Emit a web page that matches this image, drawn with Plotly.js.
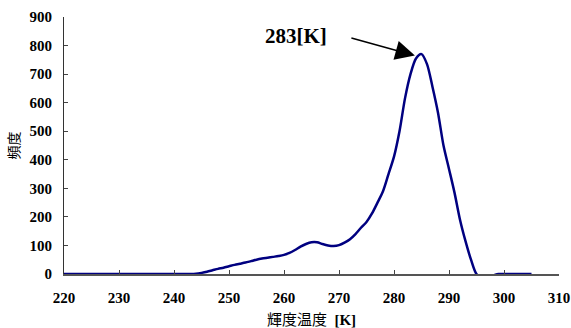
<!DOCTYPE html>
<html>
<head>
<meta charset="utf-8">
<script src="https://cdn.plot.ly/plotly-3.0.1.min.js"></script>
<style>html,body{margin:0;padding:0;background:#fff;}#chart{width:571px;height:328px;}</style>
</head>
<body>
<div id="chart"></div>
<script>
// Brightness temperature [K]
var temperatureK = [220,221,222,223,224,225,226,227,228,229,230,231,232,233,234,235,236,237,238,239,
  240,241,242,243,244,245,246,247,248,249,250,251,252,253,254,255,256,257,258,259,
  260,261,262,263,264,265,266,267,268,269,270,271,272,273,274,275,276,277,278,279,
  280,281,282,283,284,285,286,287,288,289,290,291,292,293,294,295,296,297,298,299,
  300,301,302,303,304,305];
// Frequency
var frequency = [0,0,0,0,0,0,0,0,0,0,0,0,0,0,0,0,0,0,0,0,
  0,0,0,0,1,4,8,13,18,22,27,32,36,40,45,50,54,57,60,63,
  67,74,84,96,105,111,111,105,100,98,101,110,122,140,162,182,212,250,290,350,
  411,500,615,700,755,770,735,655,565,450,368,285,190,115,50,0,-10,-10,-5,0,
  0,0,0,0,0,0];

var xTicks = [220,230,240,250,260,270,280,290,300,310];
var yTicks = [0,100,200,300,400,500,600,700,800,900];
var peakLabel = '283[K]';
var peakPoint = {x: 283.8, y: 765};
var labelPoint = {x: 262.2, y: 833};

var numFont = 'Liberation Serif, DejaVu Serif, serif';
var cjkFont = 'Liberation Serif, Noto Sans CJK JP, serif';

var trace = {
  x: temperatureK,
  y: frequency,
  type: 'scatter',
  mode: 'lines',
  line: {color: '#000080', width: 2.5, shape: 'spline', smoothing: 0.8},
  hoverinfo: 'skip'
};

var layout = {
  width: 571, height: 328,
  margin: {l: 64, r: 12, t: 17, b: 54},
  paper_bgcolor: '#fff', plot_bgcolor: '#fff',
  showlegend: false,
  xaxis: {
    range: [220, 310], tickvals: xTicks, ticktext: xTicks.map(String),
    ticks: 'inside', ticklen: 4, tickcolor: '#444', tickwidth: 1,
    ticklabelstandoff: 9,
    showline: true, linecolor: '#555', linewidth: 1.5,
    showgrid: false, zeroline: false,
    tickfont: {family: numFont, size: 15, color: '#000', weight: 'bold'},
    title: {text: '輝度温度  <b>[K]</b>', font: {family: cjkFont, size: 15, color: '#000'}, standoff: 13}
  },
  yaxis: {
    range: [0, 900], tickvals: yTicks, ticktext: yTicks.map(String),
    ticks: 'inside', ticklen: 4, tickcolor: '#444', tickwidth: 1,
    ticklabelstandoff: 8,
    showline: true, linecolor: '#333', linewidth: 1,
    showgrid: false, zeroline: false,
    tickfont: {family: numFont, size: 15, color: '#000', weight: 'bold'},
    title: {text: '頻度', font: {family: cjkFont, size: 14, color: '#000'}, standoff: 6}
  },
  annotations: [
    {
      x: peakPoint.x, y: peakPoint.y, xref: 'x', yref: 'y',
      text: '', showarrow: true,
      ax: -65, ay: -18, axref: 'pixel', ayref: 'pixel',
      arrowhead: 2, arrowsize: 2.6, arrowwidth: 1.5, arrowcolor: '#000'
    },
    {
      x: labelPoint.x, y: labelPoint.y, xref: 'x', yref: 'y',
      text: '<b>' + peakLabel + '</b>', showarrow: false,
      font: {family: numFont, size: 21, color: '#000'}
    }
  ]
};

Plotly.newPlot('chart', [trace], layout, {displayModeBar: false, staticPlot: true});
</script>
</body>
</html>
